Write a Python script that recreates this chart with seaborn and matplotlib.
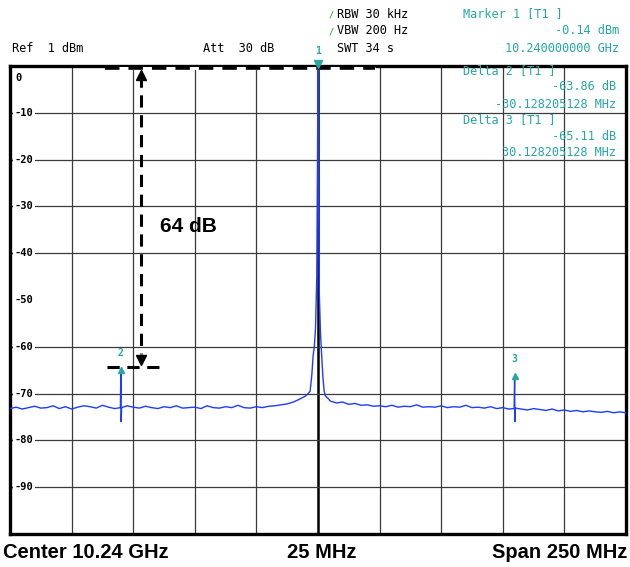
import matplotlib
matplotlib.use("Agg")
import matplotlib.pyplot as plt
import seaborn as sns
import pandas as pd

sns.set_style("white")
plt.rcParams['font.family'] = ['DejaVu Sans']
plt.rcParams['text.color'] = 'black'

# ---------------- data (MHz offset from 10.24 GHz, level in dBm) ----------------
freq_mhz = [
    -125, -122.5, -120, -117.5, -115, -112.5, -110, -107.5, -105, -102.5, -100,
    -97.5, -95, -92.5, -90, -87.5, -85, -82.5,
    -80.2, -80.0, -79.9, -79.7,
    -77.5, -75, -72.5, -70, -67.5, -65, -62.5, -60, -57.5, -55, -52.5, -50,
    -47.5, -45, -42.5, -40, -37.5, -35, -32.5, -30, -27.5, -25, -22.5, -20,
    -17.5, -15, -12.5, -10, -7.5, -5,
    -4, -3.2, -2.5, -2, -1.5, -1.0, -0.5, -0.2, 0, 0.2, 0.5, 1.0, 1.5, 2.0, 2.5, 3.0, 4,
    5, 7.5, 10, 12.5, 15, 17.5, 20, 22.5, 25, 27.5, 30, 32.5, 35, 37.5, 40, 42.5,
    45, 47.5, 50, 52.5, 55, 57.5, 60, 62.5, 65, 67.5, 70, 72.5, 75, 77.5,
    79.6, 79.8, 79.9, 80.1,
    82.5, 85, 87.5, 90, 92.5, 95, 97.5, 100, 102.5, 105, 107.5, 110, 112.5,
    115, 117.5, 120, 122.5, 125,
]
level_dbm = [
    -73.2, -72.9, -73.3, -73.0, -72.7, -73.1, -73.0, -72.6, -73.2, -72.8, -73.3,
    -72.9, -72.6, -72.8, -73.1, -72.5, -72.9, -73.2,
    -73.0, -65.0, -76.0, -73.0,
    -72.6, -72.9, -73.1, -72.7, -73.0, -73.2, -72.8, -73.0, -72.6, -73.1, -73.0, -72.9,
    -73.2, -72.6, -73.0, -73.1, -72.8, -73.0, -72.5, -73.0, -73.1, -72.8, -73.0, -72.7,
    -72.6, -72.4, -72.2, -71.8, -71.2, -70.5,
    -70.0, -69.5, -66.0, -62.0, -60.0, -56.0, -45.0, -20.0, -0.14, -25.0, -48.0, -57.0,
    -62.0, -66.5, -69.5, -70.5, -71.0,
    -71.6, -72.0, -71.8, -72.3, -72.1, -72.5, -72.4, -72.7, -72.6, -72.8, -72.5, -72.9,
    -72.7, -72.8, -72.4, -72.9, -72.8, -72.9, -72.6, -73.0, -72.8, -72.9, -72.5, -73.0,
    -72.9, -73.1, -72.8, -73.2, -73.0, -73.3,
    -73.2, -66.2, -76.0, -73.1,
    -73.3, -73.5, -73.2, -73.4, -73.6, -73.3, -73.7, -73.5, -73.8, -73.6, -73.9, -73.7,
    -73.9, -74.0, -73.8, -74.1, -73.9, -74.1,
]

marker_ids = ["1", "2", "3"]
marker_freq = [0.0, -80.0, 79.8]
marker_level = [-0.14, -65.0, -66.2]

y_levels = [-10, -20, -30, -40, -50, -60, -70, -80, -90]
y_labels = ["-10", "-20", "-30", "-40", "-50", "-60", "-70", "-80", "-90"]
hidden_grid_level = -50

header_left = ["Ref  1 dBm", "Att  30 dB"]
header_mid = ["RBW 30 kHz", "VBW 200 Hz", "SWT 34 s"]
marker_block = ["Marker 1 [T1 ]", "-0.14 dBm", "10.240000000 GHz"]
delta_block = ["Delta 2 [T1 ]", "-63.86 dB", "-30.128205128 MHz",
               "Delta 3 [T1 ]", "-65.11 dB", "30.128205128 MHz"]
bottom_labels = ["Center 10.24 GHz", "25 MHz", "Span 250 MHz"]
span_text = "64 dB"

df = pd.DataFrame({"freq": freq_mhz, "level": level_dbm})

# ---------------- figure ----------------
W, H = 630, 567
fig = plt.figure(figsize=(W / 100, H / 100), dpi=100)
fig.patch.set_facecolor("white")


def fx(x):
    return x / W


def fy(y):
    return 1 - y / H


left, right, top, bottom = 10, 626, 66, 534
ax = fig.add_axes([fx(left), fy(bottom), (right - left) / W, (bottom - top) / H])
ax.set_xlim(-125, 125)
ax.set_ylim(-100, 0)
ax.set_xticks([])
ax.set_yticks([v for v in y_levels if v != hidden_grid_level])
ax.set_yticklabels([])
ax.tick_params(axis="y", direction="in", length=3, width=1, color="black", left=True)
for s in ax.spines.values():
    s.set_linewidth(2.4)
    s.set_color("black")

grid_col = "#3a3a3a"
for xv in range(-100, 101, 25):
    ax.axvline(xv, color="black" if xv == 0 else grid_col,
               lw=1.8 if xv == 0 else 0.9, zorder=1)
for yv in y_levels:
    if yv == hidden_grid_level:
        continue
    ax.axhline(yv, color=grid_col, lw=0.9, zorder=1)

mono = "DejaVu Sans Mono"
# y labels inside the plot
ax.text(-123.0, -1.4, "0", fontsize=7.5, family=mono, fontweight="bold",
        va="top", ha="left", zorder=3)
for yv, lab in zip(y_levels, y_labels):
    ax.text(-123.2, yv, lab, fontsize=7.5, family=mono, fontweight="bold",
            va="center", ha="left", zorder=3,
            bbox=dict(facecolor="white", edgecolor="none", pad=1.2))

# trace
sns.lineplot(data=df, x="freq", y="level", ax=ax, color="#1e3cff", lw=1.0,
             sort=False, estimator=None, zorder=4)
ax.set_xlabel("")
ax.set_ylabel("")

teal = "#26a6a6"
# markers
ax.plot(marker_freq[0], 0.4, marker="v", ms=6, color=teal, clip_on=False, zorder=6)
ax.text(marker_freq[0], 2.2, marker_ids[0], color=teal, fontsize=7, family=mono,
        fontweight="bold", ha="center", va="bottom", clip_on=False)
for mid, mf, ml in zip(marker_ids[1:], marker_freq[1:], marker_level[1:]):
    ax.plot(mf, ml, marker="^", ms=4.5, color=teal, zorder=6)
    ax.text(mf, ml + 2.6, mid, color=teal, fontsize=7, family=mono,
            fontweight="bold", ha="center", va="bottom")

# annotation: 64 dB span
ax.plot([-86.4, 23.1], [-0.35, -0.35], color="white", lw=2.2, zorder=5,
        solid_capstyle="butt")
ax.plot([-86.4, 23.1], [-0.35, -0.35], color="black", lw=2.6, zorder=5,
        dashes=(4, 2.5))
ax.plot([-85.6, -62.1], [-64.4, -64.4], color="black", lw=2.2, zorder=5,
        dashes=(4, 2.5))
ax.plot([-71.8, -71.8], [-2.0, -61.5], color="black", lw=2.2, zorder=5,
        dashes=(4, 2.5))
ax.plot(-71.8, -1.9, marker="^", ms=7, color="black", zorder=6, clip_on=False)
ax.plot(-71.8, -62.8, marker="v", ms=7, color="black", zorder=6)
ax.text(-64.3, -34.3, span_text, fontsize=15, fontweight="bold", color="black",
        family=["Liberation Sans", "DejaVu Sans"], ha="left", va="center", zorder=6)

# ---------------- header texts ----------------
hs = 8.6
fig.text(fx(12), fy(48), header_left[0], fontsize=hs, family=mono, va="center", ha="left")
fig.text(fx(203), fy(48), header_left[1], fontsize=hs, family=mono, va="center", ha="left")
for i, t in enumerate(header_mid):
    yy = [14, 31, 48][i]
    fig.text(fx(337), fy(yy), t, fontsize=hs, family=mono, va="center", ha="left")
    if i < 2:
        fig.text(fx(331), fy(yy + 1), "/", fontsize=6, family=mono, va="center",
                 ha="center", color="#2e9e2e", fontweight="bold")
fig.text(fx(463), fy(14), marker_block[0], fontsize=hs, family=mono, color=teal,
         va="center", ha="left")
fig.text(fx(619), fy(31), marker_block[1], fontsize=hs, family=mono, color=teal,
         va="center", ha="right")
fig.text(fx(619), fy(48), marker_block[2], fontsize=hs, family=mono, color=teal,
         va="center", ha="right")
# delta blocks inside plot
drow_y = [71, 87, 104, 120, 137, 153]
for i, (t, yy) in enumerate(zip(delta_block, drow_y)):
    if i % 3 == 0:
        fig.text(fx(463), fy(yy), t, fontsize=hs, family=mono, color=teal,
                 va="center", ha="left", zorder=7)
    else:
        fig.text(fx(616), fy(yy), t, fontsize=hs, family=mono, color=teal,
                 va="center", ha="right", zorder=7)

# bottom labels
bf = ["Liberation Sans", "DejaVu Sans"]
fig.text(fx(3), fy(553), bottom_labels[0], fontsize=14.5, fontweight="bold",
         family=bf, va="center", ha="left", color="black")
fig.text(fx(322), fy(553), bottom_labels[1], fontsize=14.5, fontweight="bold",
         family=bf, va="center", ha="center", color="black")
fig.text(fx(627), fy(553), bottom_labels[2], fontsize=14.5, fontweight="bold",
         family=bf, va="center", ha="right", color="black")

fig.savefig("out.png", dpi=100, facecolor="white")
